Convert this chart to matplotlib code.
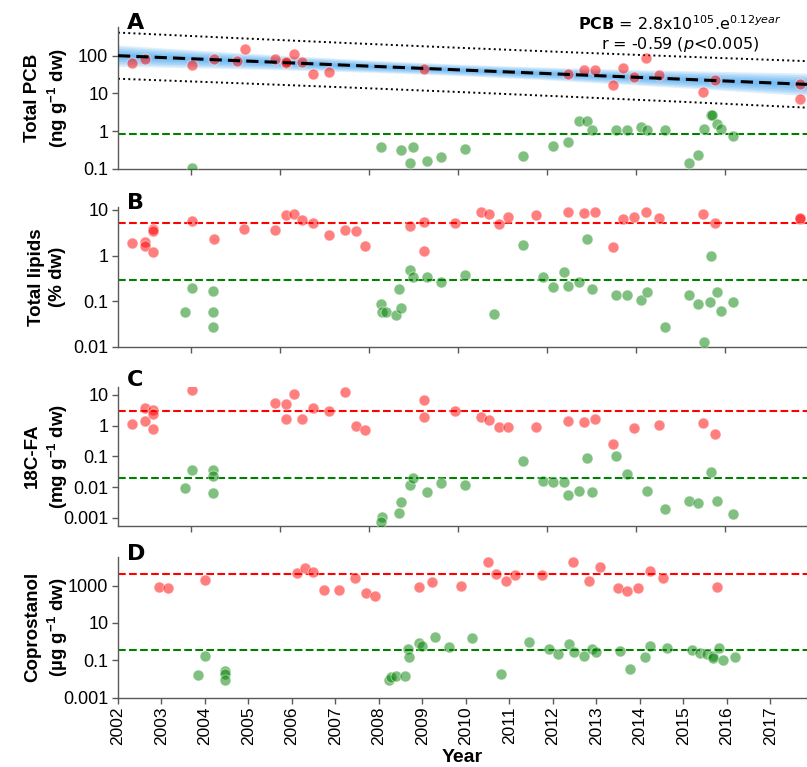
import numpy as np
import matplotlib
matplotlib.use("Agg")
import matplotlib.pyplot as plt
from matplotlib.ticker import FixedLocator, FuncFormatter, NullLocator

plt.rcParams['font.family'] = ['Liberation Sans', 'DejaVu Sans']
plt.rcParams['mathtext.default'] = 'regular'

# panel A - total PCB (ng/g dw)
years_a_red = [2002.69, 2002.97, 2004.04, 2004.52, 2005.05, 2005.22, 2005.89, 2006.14, 2006.14,
               2006.32, 2006.50, 2006.76, 2007.10, 2009.25, 2012.47, 2012.84, 2013.09, 2013.49,
               2013.71, 2013.96, 2014.24, 2014.53, 2015.52, 2015.78, 2017.69, 2017.69]
pcb_red = [63, 82, 57, 83, 74, 148, 82, 65, 66, 113, 67, 33, 36, 44, 33, 41, 41, 16.4,
           46, 27, 85, 31, 10.9, 23, 17.8, 7.1]
years_a_green = [2004.04, 2008.28, 2008.73, 2008.99, 2008.93, 2009.32, 2009.62, 2010.16, 2011.47,
                 2012.14, 2012.49, 2012.73, 2012.91, 2013.01, 2013.55, 2013.80, 2014.13, 2014.25,
                 2014.65, 2015.20, 2015.39, 2015.53, 2015.69, 2015.71, 2015.82, 2015.92, 2016.19]
pcb_green = [0.105, 0.38, 0.31, 0.38, 0.144, 0.157, 0.21, 0.33, 0.22, 0.41, 0.50, 1.84, 1.84,
             1.04, 1.04, 1.04, 1.25, 1.04, 1.04, 0.139, 0.23, 1.15, 2.66, 2.66, 1.53, 1.15, 0.72]
pcb_green_ref = 0.82

# panel B - total lipids (% dw)
years_b_red = [2002.69, 2002.97, 2002.97, 2003.16, 2003.16, 2003.16, 2004.04, 2004.52, 2005.21,
               2005.89, 2006.14, 2006.32, 2006.50, 2006.76, 2007.10, 2007.48, 2007.72, 2007.93,
               2008.94, 2009.25, 2009.25, 2009.94, 2010.52, 2010.71, 2010.93, 2011.14, 2011.77,
               2012.47, 2012.84, 2013.09, 2013.49, 2013.71, 2013.96, 2014.24, 2014.53, 2015.52,
               2015.78, 2017.69, 2017.69]
lipid_red = [1.87, 1.97, 1.66, 3.79, 3.53, 1.19, 5.85, 2.29, 3.84, 3.66, 7.69, 8.33, 6.16, 5.13,
             2.89, 3.60, 3.53, 1.58, 4.48, 5.48, 1.25, 5.2, 8.95, 8.09, 5.04, 6.94, 7.8, 9.22,
             8.76, 9.22, 1.55, 6.27, 7.17, 9.22, 6.61, 8.09, 5.2, 6.47, 6.6]
years_b_green = [2003.87, 2004.04, 2004.50, 2004.50, 2004.50, 2008.28, 2008.30, 2008.40, 2008.62,
                 2008.69, 2008.73, 2008.93, 2008.99, 2009.32, 2009.62, 2010.16, 2010.82, 2011.47,
                 2011.91, 2012.14, 2012.39, 2012.49, 2012.73, 2012.91, 2013.01, 2013.55, 2013.80,
                 2014.13, 2014.25, 2014.65, 2015.20, 2015.39, 2015.53, 2015.67, 2015.70, 2015.82,
                 2015.92, 2016.19]
lipid_green = [0.0563, 0.199, 0.171, 0.0563, 0.0277, 0.0886, 0.059, 0.059, 0.0493, 0.183, 0.0702,
               0.493, 0.341, 0.33, 0.269, 0.383, 0.0519, 1.69, 0.341, 0.206, 0.44, 0.22, 0.261,
               2.36, 0.189, 0.133, 0.133, 0.107, 0.155, 0.0277, 0.133, 0.087, 0.0126, 0.094,
               0.985, 0.162, 0.061, 0.094]
lipid_red_ref = 5.27
lipid_green_ref = 0.29

# panel C - 18C fatty acids (mg/g dw)
years_c_red = [2002.69, 2002.97, 2002.97, 2003.16, 2003.16, 2003.16, 2004.04, 2005.89, 2006.14,
               2006.14, 2006.32, 2006.50, 2006.76, 2007.10, 2007.48, 2007.72, 2007.93, 2009.25,
               2009.25, 2009.94, 2010.52, 2010.71, 2010.93, 2011.14, 2011.77, 2012.47, 2012.84,
               2013.09, 2013.49, 2013.96, 2014.53, 2015.52, 2015.78]
fa_red = [1.16, 3.86, 1.39, 3.25, 2.41, 0.80, 14.9, 5.62, 5.21, 1.69, 10.5, 1.65, 3.77, 2.94,
          12.8, 0.955, 0.741, 7.03, 1.92, 3.08, 1.96, 1.53, 0.907, 0.886, 0.886, 1.46, 1.35,
          1.69, 0.254, 0.823, 1.05, 1.2, 0.537]
years_c_green = [2003.87, 2004.04, 2004.50, 2004.50, 2004.50, 2008.30, 2008.28, 2008.69, 2008.73,
                 2008.93, 2008.99, 2009.32, 2009.62, 2010.16, 2011.47, 2011.91, 2012.14, 2012.39,
                 2012.49, 2012.73, 2012.91, 2013.01, 2013.55, 2013.80, 2014.25, 2014.65, 2015.20,
                 2015.39, 2015.70, 2015.82, 2016.19]
fa_green = [0.0096, 0.0352, 0.0369, 0.0234, 0.0062, 0.00105, 0.00073, 0.0014, 0.00327, 0.0117,
            0.0202, 0.0071, 0.0139, 0.012, 0.0724, 0.0158, 0.0145, 0.0151, 0.00553, 0.00764,
            0.0908, 0.00694, 0.1, 0.0273, 0.00764, 0.00194, 0.00352, 0.00303, 0.0303, 0.00352,
            0.0013]
fa_red_ref = 3.08
fa_green_ref = 0.019

# panel D - coprostanol (ug/g dw)
years_d_red = [2002.94, 2003.14, 2004.01, 2006.12, 2006.30, 2006.48, 2006.74, 2007.07, 2007.46,
               2007.69, 2007.91, 2008.92, 2009.23, 2009.88, 2010.50, 2010.69, 2010.92, 2011.12,
               2011.75, 2012.45, 2012.82, 2013.09, 2013.49, 2013.70, 2013.95, 2014.23, 2014.52,
               2015.77]
cop_red = [885, 783, 2010, 4900, 8420, 5550, 569, 613, 2665, 394, 273, 822, 1630, 963, 18900,
           4350, 1715, 3850, 3570, 17580, 1780, 9520, 783, 542, 727, 5840, 2475, 885]
years_d_green = [2003.83, 2004.01, 2004.47, 2004.47, 2004.47, 2008.24, 2008.28, 2008.38, 2008.59,
                 2008.66, 2008.70, 2008.92, 2008.98, 2009.29, 2009.61, 2010.14, 2010.80, 2011.46,
                 2011.90, 2012.11, 2012.37, 2012.48, 2012.72, 2012.89, 2013.00, 2013.53, 2013.78,
                 2014.11, 2014.24, 2014.63, 2015.20, 2015.38, 2015.53, 2015.67, 2015.69, 2015.82,
                 2015.90, 2016.19]
cop_green = [0.0163, 0.167, 0.028, 0.0197, 0.0093, 0.0088, 0.0127, 0.0137, 0.0137, 0.394, 0.148,
             0.822, 0.569, 1.87, 0.53, 1.65, 0.0194, 0.977, 0.38, 0.224, 0.792, 0.284, 0.176,
             0.394, 0.284, 0.306, 0.0357, 0.143, 0.569, 0.468, 0.365, 0.241, 0.214, 0.167,
             0.131, 0.43, 0.108, 0.148]
cop_red_ref = 4000
cop_green_ref = 0.35

year_ticks = list(range(2002, 2018))


def fmt_num(v, pos):
    return f"{v:g}"


fig = plt.figure(figsize=(8.07, 7.67), dpi=100)
W, H = 807, 767


def make_ax(top, bottom):
    return fig.add_axes([118 / W, 1 - bottom / H, (807 - 118) / W, (bottom - top) / H])


axA = make_ax(27, 168.7)
axB = make_ax(206.7, 346.7)
axC = make_ax(386.7, 525.7)
axD = make_ax(556.7, 697.7)

red_kw = dict(s=62, color='red', alpha=0.5, edgecolors='white', linewidths=0.7, zorder=3)
green_kw = dict(s=62, color='green', alpha=0.5, edgecolors='white', linewidths=0.7, zorder=3)

# regression on log10 PCB, 99% intervals
xa = np.array(years_a_red)
ya = np.log10(pcb_red)
n = len(xa)
b1, b0 = np.polyfit(xa, ya, 1)
resid = ya - (b0 + b1 * xa)
s = np.sqrt(np.sum(resid ** 2) / (n - 2))
xm = xa.mean()
sxx = np.sum((xa - xm) ** 2)
t = 2.8
xx = np.linspace(2002.37, 2017.85, 200)
yfit = b0 + b1 * xx
se_fit = s * np.sqrt(1 / n + (xx - xm) ** 2 / sxx)
se_pred = s * np.sqrt(1 + 1 / n + (xx - xm) ** 2 / sxx)
for k in [0.8, 1.4, 2.0, 2.6, 3.2, 3.8]:
    axA.fill_between(xx, 10 ** (yfit - k * se_fit), 10 ** (yfit + k * se_fit),
                     color='#3aa0f0', alpha=0.17, lw=0, zorder=1)
axA.scatter(years_a_red, pcb_red, **red_kw)
axA.scatter(years_a_green, pcb_green, **green_kw)
axA.plot(xx, 10 ** yfit, color='black', ls='--', lw=2.2, dashes=(4, 2), zorder=4)
axA.plot(xx, 10 ** (yfit + t * se_pred), color='black', ls=':', lw=1.4, zorder=2)
axA.plot(xx, 10 ** (yfit - t * se_pred), color='black', ls=':', lw=1.4, zorder=2)
axA.axhline(pcb_green_ref, color='green', ls='--', lw=1.5, zorder=2)

axB.scatter(years_b_red, lipid_red, **red_kw)
axB.scatter(years_b_green, lipid_green, **green_kw)
axB.axhline(lipid_red_ref, color='red', ls='--', lw=1.5, zorder=2)
axB.axhline(lipid_green_ref, color='green', ls='--', lw=1.5, zorder=2)

axC.scatter(years_c_red, fa_red, **red_kw)
axC.scatter(years_c_green, fa_green, **green_kw)
axC.axhline(fa_red_ref, color='red', ls='--', lw=1.5, zorder=2)
axC.axhline(fa_green_ref, color='green', ls='--', lw=1.5, zorder=2)

axD.scatter(years_d_red, cop_red, **red_kw)
axD.scatter(years_d_green, cop_green, **green_kw)
axD.axhline(cop_red_ref, color='red', ls='--', lw=1.5, zorder=2)
axD.axhline(cop_green_ref, color='green', ls='--', lw=1.5, zorder=2)

ylims = [(0.1, 577), (0.01, 11.8), (0.00055, 18.6), (0.001, 35000)]
yticks = [[0.1, 1, 10, 100], [0.01, 0.1, 1, 10], [0.001, 0.01, 0.1, 1, 10], [0.001, 0.1, 10, 1000]]
ylabels = ["Total PCB\n(ng g$^{-1}$ dw)", "Total lipids\n(% dw)",
           "18C-FA\n(mg g$^{-1}$ dw)", "Coprostanol\n(\u00b5g g$^{-1}$ dw)"]
letters = ["A", "B", "C", "D"]
letter_y = [23, 203, 380, 554]
label_font = ['Liberation Sans Narrow', 'Liberation Sans', 'DejaVu Sans']

for i, ax in enumerate([axA, axB, axC, axD]):
    ax.set_yscale('log')
    ax.set_ylim(*ylims[i])
    ax.yaxis.set_major_locator(FixedLocator(yticks[i]))
    ax.yaxis.set_minor_locator(NullLocator())
    ax.yaxis.set_major_formatter(FuncFormatter(fmt_num))
    for side in ['top', 'right']:
        ax.spines[side].set_visible(False)
    for side in ['left', 'bottom']:
        ax.spines[side].set_color('0.35')
        ax.spines[side].set_linewidth(1.0)
    ax.tick_params(axis='both', direction='out', length=4, width=1, color='0.35',
                   labelsize=13, pad=3)
    box = ax.get_position()
    fig.text(47 / W, box.y0 + box.height / 2, ylabels[i], rotation=90, ha='center',
             va='center', fontsize=13.5, fontweight='bold', linespacing=1.25, family=label_font)
    fig.text(127 / W, 1 - letter_y[i] / H, letters[i], ha='left', va='center',
             fontsize=16, fontweight='bold', family='DejaVu Sans')

for ax in [axA, axB, axC]:
    ax.set_xlim(2002.37, 2017.85)
    ax.set_xticks(list(range(2004, 2017, 2)))
    ax.tick_params(axis='x', labelbottom=False)

axD.set_xlim(2002, 2017.84)
axD.set_xticks(year_ticks)
axD.set_xticklabels([str(y) for y in year_ticks], rotation=90)
axD.tick_params(axis='x', labelsize=12.5, pad=2)
fig.text(462 / W, 1 - 758 / H, "Year", ha='center', va='center', fontsize=14,
         fontweight='bold', family=label_font)

fig.text(680 / W, 1 - 24 / H, r"$\mathbf{PCB}$ = 2.8x10$^{105}$.$e^{0.12\mathit{year}}$",
         ha='center', va='center', fontsize=11.5, family='DejaVu Sans')
fig.text(680 / W, 1 - 45 / H, r"r = -0.59 ($\mathit{p}$<0.005)",
         ha='center', va='center', fontsize=11.5, family='DejaVu Sans')

fig.savefig("out.png", dpi=100)
